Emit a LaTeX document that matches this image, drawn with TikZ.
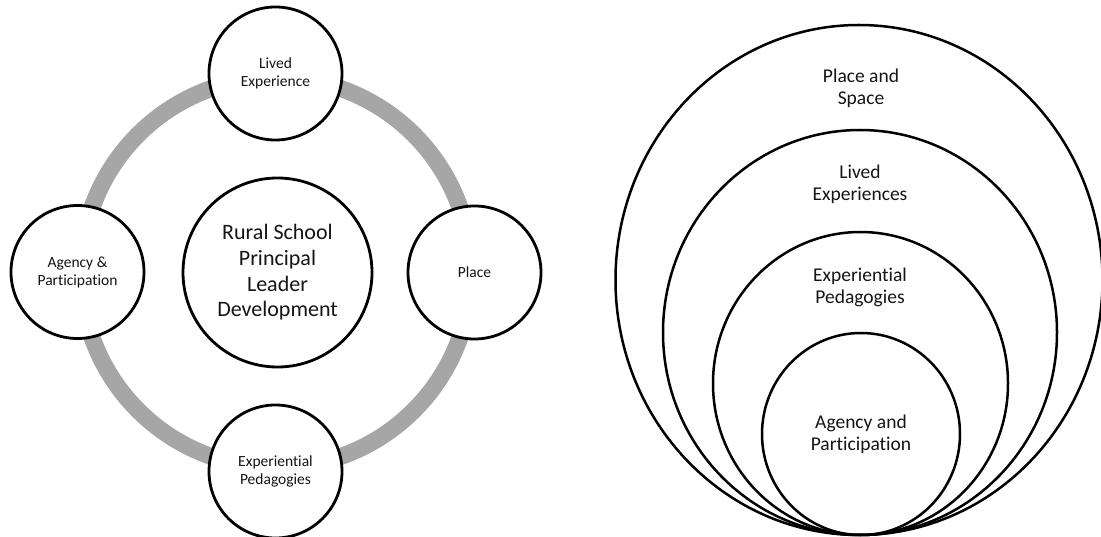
\documentclass[tikz,border=0pt]{standalone}
\usepackage{fontspec}
\setmainfont{Carlito}[Ligatures=NoCommon]
\definecolor{ringgray}{RGB}{166,166,166}
\definecolor{inktext}{RGB}{20,20,25}
\begin{document}
\begin{tikzpicture}[x=1pt,y=-1pt,
  topic/.style={circle,draw=black,line width=2.8pt,fill=white,minimum size=133pt,
    inner sep=0pt,align=center,text=inktext,font=\fontsize{15.5}{18}\selectfont},
  core/.style={circle,draw=black,line width=2.8pt,fill=white,minimum size=189pt,
    inner sep=0pt,align=center,text=inktext,font=\fontsize{22}{25.7}\selectfont},
  layer/.style={draw=black,line width=2.5pt},
  layerlabel/.style={align=center,text=inktext,font=\fontsize{19.5}{22}\selectfont}]
\useasboundingbox (0,0) rectangle (1101,537);

% cycle of four themes around the central focus
\coordinate (hub) at (276,272.5);
\draw[ringgray,line width=17pt] (hub) circle [radius=195];
\node[core]  (rural)  at (277.5,272.5) {Rural School\\Principal\\Leader\\Development};
\node[topic] (lived)  at (275.5,73.5)  {Lived\\Experience};
\node[topic] (place)  at (474.5,272.5) {Place};
\node[topic] (exped)  at (275.5,471.5) {Experiential\\Pedagogies};
\node[topic] (agency) at (77.5,272)    {Agency \&\\Participation};

% nested layers, all touching at the bottom
\draw[layer] (859,280)   ellipse [x radius=243.5, y radius=255];
\draw[layer] (860,332.5) ellipse [x radius=197,   y radius=202.5];
\draw[layer] (860.5,383.5) ellipse [x radius=147.5, y radius=151.5];
\draw[layer] (861,434)   ellipse [x radius=99,    y radius=101];
\node[layerlabel] (lspace)  at (861,88)    {Place and\\Space};
\node[layerlabel] (llived)  at (860,184)   {Lived\\Experiences};
\node[layerlabel] (lexped)  at (860,287.5) {Experiential\\Pedagogies};
\node[layerlabel] (lagency) at (861,434)   {Agency and\\Participation};
\end{tikzpicture}
\end{document}
